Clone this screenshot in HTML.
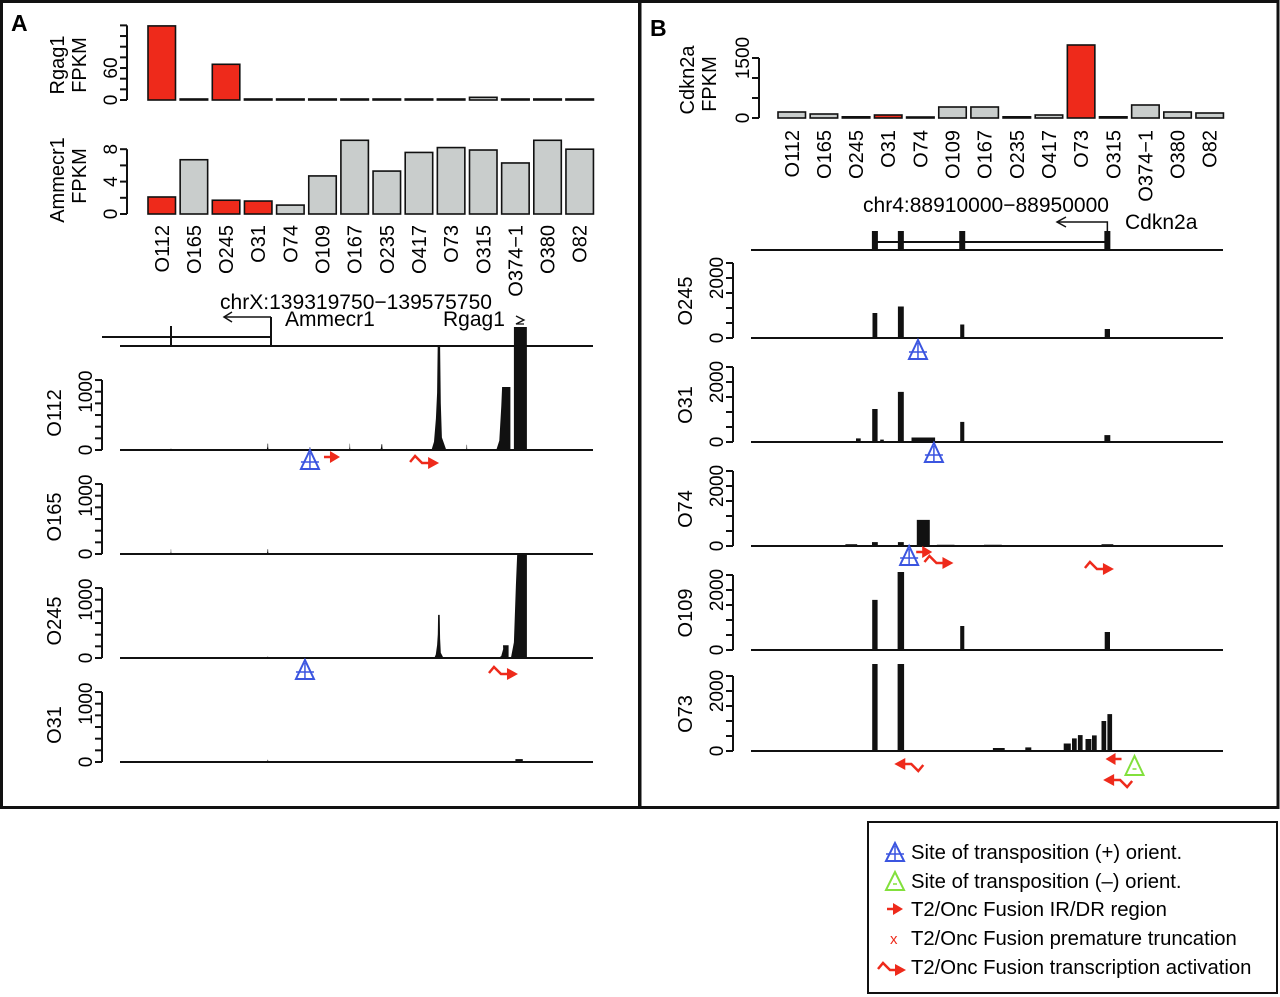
<!DOCTYPE html>
<html><head><meta charset="utf-8">
<style>
html,body{margin:0;padding:0;background:#fff;}
svg{display:block;font-family:"Liberation Sans",Arial,sans-serif;}
</style></head>
<body>
<svg id="fig" xmlns="http://www.w3.org/2000/svg" width="1280" height="997" viewBox="0 0 1280 997">
  <rect x="1.5" y="1.5" width="638" height="806" fill="none" stroke="#111" stroke-width="3"/>
  <rect x="640" y="1.5" width="638" height="806" fill="none" stroke="#111" stroke-width="3"/>
  <text x="11" y="31" font-size="23" font-weight="bold">A</text>
  <text x="650" y="36" font-size="23" font-weight="bold">B</text>
  <g id="gA"></g>
  <g id="gB"></g>
  <g>
    <rect x="868" y="822" width="409" height="171" fill="none" stroke="#111" stroke-width="2"/>
    <g>
      <polygon points="895,843 886,861 904,861" fill="none" stroke="#3b55e0" stroke-width="2"/>
      <line x1="886" y1="854" x2="904" y2="854" stroke="#3b55e0" stroke-width="1.5"/>
      <line x1="895" y1="846" x2="895" y2="861" stroke="#3b55e0" stroke-width="1.5"/>
      <text x="911" y="859" font-size="20.3">Site of transposition (+) orient.</text>
    </g>
    <g>
      <polygon points="895,872 886,890 904,890" fill="none" stroke="#82e03c" stroke-width="2"/>
      <line x1="893" y1="884" x2="897" y2="884" stroke="#82e03c" stroke-width="1.5"/>
      <text x="911" y="888" font-size="20.3">Site of transposition (–) orient.</text>
    </g>
    <g>
      <line x1="887" y1="909" x2="895" y2="909" stroke="#ee2a1b" stroke-width="2.5"/>
      <polygon points="893,903 903,909 893,915" fill="#ee2a1b"/>
      <text x="911" y="916" font-size="20.3">T2/Onc Fusion IR/DR region</text>
    </g>
    <g>
      <text x="890" y="944" font-size="15" fill="#ee2a1b">x</text>
      <text x="911" y="945" font-size="20.3">T2/Onc Fusion premature truncation</text>
    </g>
    <g>
      <polyline points="878,969 883,963 890,970 897,970" fill="none" stroke="#ee2a1b" stroke-width="2.5"/>
      <polygon points="895,964 906,970 895,976" fill="#ee2a1b"/>
      <text x="911" y="974" font-size="20.3">T2/Onc Fusion transcription activation</text>
    </g>
  </g>
</svg>
<script>
// ---------- data ----------
const samples = ["O112","O165","O245","O31","O74","O109","O167","O235","O417","O73","O315","O374\u22121","O380","O82"];
const rgag1Fpkm = [139,0,67,1.5,0,0,0,0,0,0,5,0,0,0];
const rgag1Red = [1,0,1,0,0,0,0,0,0,0,0,0,0,0];
const rgag1Ticks = [0,20,40,60,80,100,120,140];
const rgag1TickLabels = ["0","60"];
const ammecr1Fpkm = [2.1,6.7,1.7,1.6,1.1,4.7,9.1,5.3,7.6,8.2,7.9,6.3,9.1,8.0];
const ammecr1Red = [1,0,1,1,0,0,0,0,0,0,0,0,0,0];
const ammecr1Ticks = [0,2,4,6,8];
const ammecr1TickLabels = ["0","4","8"];
const cdkn2aFpkm = [150,100,30,75,10,275,275,30,75,1825,30,325,150,125];
const cdkn2aRed = [0,0,0,1,0,0,0,0,0,1,0,0,0,0];
const cdkn2aTicks = [0,500,1000,1500];
const cdkn2aTickLabels = ["0","1500"];

// coverage tracks (positions in kb from region start)
const trackATicks = [0,200,400,600,800,1000,1200];
const trackATickLabels = ["0","1000"];
const trackBTicks = [0,500,1000,1500,2000,2500];
const trackBTickLabels = ["0","2000"];
const tracksA = ["O112","O165","O245","O31"];
const aO112Pos = [27.6,80,102.8,124.4,141.7,172.6,187.7,208.3,216.7];
const aO112H   = [30,110,50,110,100,1800,90,1080,1800];
const aO112W   = [0.8,1.8,1.8,1.2,2.5,8,1.2,6,7];
const aO112K   = ["s","s","s","s","s","s","s","r","b"];
const aO165Pos = [27.6,80];
const aO165H   = [80,80];
const aO165W   = [1,1.8];
const aO165K   = ["s","s"];
const aO245Pos = [80,172.6,208.3,216.7];
const aO245H   = [25,740,220,1800];
const aO245W   = [1.5,5,4,7];
const aO245K   = ["s","s","r","r"];
const aO31Pos  = [80,216];
const aO31H    = [40,50];
const aO31W    = [1.5,4];
const aO31K    = ["s","b"];
const tracksB = ["O245","O31","O74","O109","O73"];
const bO245Pos = [10.5,12.7,17.9,30.2];
const bO245H   = [833,1050,450,300];
const bO245W   = [0.4,0.5,0.35,0.45];
const bO31Pos  = [9.1,10.5,11.1,12.7,14.6,17.9,30.2];
const bO31H    = [120,1100,80,1670,150,670,230];
const bO31W    = [0.4,0.45,0.3,0.5,2,0.35,0.5];
const bO74Pos  = [8.5,10.5,12.7,14.6,16.5,20.5,30.2];
const bO74H    = [60,130,130,870,40,40,60];
const bO74W    = [1,0.5,0.5,1.1,1.5,1.5,1];
const bO109Pos = [10.5,12.7,17.9,30.2];
const bO109H   = [1670,2600,800,600];
const bO109W   = [0.45,0.55,0.35,0.45];
const bO73Pos  = [10.5,12.7,21,23.5,26.8,27.4,27.9,28.6,29.1,29.9,30.4];
const bO73H    = [2900,2900,100,120,250,420,530,400,520,1000,1230];
const bO73W    = [0.45,0.55,1,0.5,0.6,0.4,0.4,0.5,0.4,0.4,0.4];

// ---------- helpers ----------
const NS = "http://www.w3.org/2000/svg";
function mk(parent, tag, attrs, txt){
  const e = document.createElementNS(NS, tag);
  for (const k in attrs) e.setAttribute(k, attrs[k]);
  if (txt !== undefined) e.textContent = txt;
  parent.appendChild(e);
  return e;
}
const RED = "#ee2a1b", GREY = "#c9cdcc", BLUE = "#3b55e0", GREEN = "#82e03c";
const gA = document.getElementById("gA");
const gB = document.getElementById("gB");

function rotText(parent, x, y, str, size, anchor){
  const t = mk(parent, "text", {transform:"translate("+x+","+y+") rotate(-90)", "font-size":size, "text-anchor":anchor||"middle"}, str);
  return t;
}

function barChart(parent, name, vals, reds, ticks, tickLabels, axisX, baseY, ppu, x0, pitch, bw, labelTop){
  const g = mk(parent, "g", {});
  
  
  const yS = v => baseY - v * ppu;
  mk(g, "line", {x1:axisX, y1:yS(ticks[0]), x2:axisX, y2:yS(ticks[ticks.length-1]), stroke:"#111", "stroke-width":2});
  ticks.forEach(t => {
    const tk = mk(g, "line", {x1:axisX-7, y1:yS(t), x2:axisX, y2:yS(t), stroke:"#111", "stroke-width":2});
    
    
  });
  tickLabels.forEach(l => {
    const tl = rotText(g, axisX - 10, yS(+l), l, 19);
    
    
  });
  vals.forEach((v, i) => {
    const x = x0 + i * pitch;
    const h = Math.max(v * ppu, 1);
    const r = mk(g, "rect", {x:x, y:baseY - h, width:bw, height:h, fill:reds[i] ? RED : GREY, stroke:"#111", "stroke-width":1.6});
    
    
    if (labelTop) {
      const sl = rotText(g, x + bw/2 + 7, labelTop, samples[i], 20, "end");
      
      
    }
  });
  return g;
}

function track(parent, name, label, pos, hs, ws, kinds, xS, x1, x2, axisX, baseY, ppu, ticks, tickLabels, clipH){
  const g = mk(parent, "g", {});
  
  
  const yS = v => baseY - v * ppu;
  mk(g, "line", {x1:axisX, y1:yS(0), x2:axisX, y2:yS(ticks[ticks.length-1]), stroke:"#111", "stroke-width":2});
  ticks.forEach(t => {
    mk(g, "line", {x1:axisX-7, y1:yS(t), x2:axisX, y2:yS(t), stroke:"#111", "stroke-width":2});
  });
  tickLabels.forEach(l => {
    const tl = rotText(g, axisX - 10, yS(+l), l, 19);
    
    
  });
  const nl = rotText(g, axisX - 41, baseY - 37, label, 20);
  
  
  mk(g, "line", {x1:x1, y1:baseY, x2:x2, y2:baseY, stroke:"#111", "stroke-width":2});
  pos.forEach((p, i) => {
    const h = Math.min(hs[i], clipH) * ppu;
    const xc = xS(p);
    const w = Math.max(xS(p + ws[i]/2) - xS(p - ws[i]/2), 1.5);
    const k = kinds ? kinds[i] : "b";
    let pts;
    if (k === "b") pts = [[xc-w/2,0],[xc-w/2,h],[xc+w/2,h],[xc+w/2,0]];
    else if (k === "r") pts = [[xc-w/2-3,0],[xc-w/2,h*0.15],[xc-w/2+2,h*0.7],[xc-w/4,h],[xc+w/2,h],[xc+w/2,0]];
    else pts = [[xc-w/2,0],[xc-w/3,h*0.08],[xc-w/5,h*0.3],[xc-w/8,h*0.55],[xc-w/12,h],[xc+w/12,h],[xc+w/8,h*0.45],[xc+w/5,h*0.12],[xc+w/2,0]];
    const pk = mk(g, "polygon", {points: pts.map(q => q[0].toFixed(1)+","+(baseY-q[1]).toFixed(1)).join(" "), fill:"#111"});
    
    
  });
  return g;
}

function triMark(parent, x, y, plus){
  const g = mk(parent, "g", {});
  
  
  const c = plus ? BLUE : GREEN;
  mk(g, "polygon", {points:x+","+y+" "+(x-9)+","+(y+19)+" "+(x+9)+","+(y+19), fill:"none", stroke:c, "stroke-width":2});
  if (plus) {
    mk(g, "line", {x1:x-9, y1:y+12, x2:x+9, y2:y+12, stroke:c, "stroke-width":1.5});
    mk(g, "line", {x1:x, y1:y+3, x2:x, y2:y+19, stroke:c, "stroke-width":1.5});
  } else {
    mk(g, "line", {x1:x-2, y1:y+13, x2:x+2, y2:y+13, stroke:c, "stroke-width":1.5});
  }
}
function arrowMark(parent, x, y, dir){
  const g = mk(parent, "g", {});
  
  
  mk(g, "line", {x1:x, y1:y, x2:x+8*dir, y2:y, stroke:RED, "stroke-width":2.5});
  mk(g, "polygon", {points:(x+6*dir)+","+(y-6)+" "+(x+16*dir)+","+y+" "+(x+6*dir)+","+(y+6), fill:RED});
}
function waveMark(parent, x, y, dir){
  const g = mk(parent, "g", {});
  
  
  const f = dir;
  mk(g, "polyline", {points:[[x,y+2*f],[x+5*f,y-4*f],[x+12*f,y+3*f],[x+20*f,y+3*f]].map(q=>q.join(",")).join(" "), fill:"none", stroke:RED, "stroke-width":2.5});
  mk(g, "polygon", {points:(x+18*f)+","+(y+3*f-6)+" "+(x+29*f)+","+(y+3*f)+" "+(x+18*f)+","+(y+3*f+6), fill:RED});
}

// ---------- Panel A ----------
const xA = kb => 120 + kb / 256 * 473;
barChart(gA, "rgag1", rgag1Fpkm, rgag1Red, rgag1Ticks, rgag1TickLabels, 127, 100, 0.533, 148, 32.15, 27.5, null);
barChart(gA, "ammecr1", ammecr1Fpkm, ammecr1Red, ammecr1Ticks, ammecr1TickLabels, 127, 214, 8.1, 148, 32.15, 27.5, 225);
rotText(gA, 64, 65, "Rgag1", 20);
rotText(gA, 86, 65, "FPKM", 20);
rotText(gA, 64, 180, "Ammecr1", 20);
rotText(gA, 86, 176, "FPKM", 20);

const geneA = mk(gA, "g", {});


mk(geneA, "text", {x:356, y:309, "font-size":21, "text-anchor":"middle", textLength:272, lengthAdjust:"spacingAndGlyphs"}, "chrX:139319750\u2212139575750");
mk(geneA, "text", {x:285, y:326, "font-size":21}, "Ammecr1");
mk(geneA, "text", {x:443, y:326, "font-size":21}, "Rgag1");
mk(geneA, "line", {x1:120, y1:346, x2:593, y2:346, stroke:"#111", "stroke-width":2});
mk(geneA, "line", {x1:102, y1:337, x2:271, y2:337, stroke:"#111", "stroke-width":2});
mk(geneA, "line", {x1:171, y1:326, x2:171, y2:346, stroke:"#111", "stroke-width":2});
mk(geneA, "line", {x1:271, y1:317, x2:271, y2:346, stroke:"#111", "stroke-width":2});
mk(geneA, "polyline", {points:"271,317 224,317", fill:"none", stroke:"#111", "stroke-width":1.5});
mk(geneA, "polyline", {points:"232,312 224,317 232,322", fill:"none", stroke:"#111", "stroke-width":1.5});
mk(geneA, "rect", {x:xA(213.2), y:327, width:xA(220.2)-xA(213.2), height:19, fill:"#111"});
mk(geneA, "polyline", {points:"516,316 524,320 516,324 524,324", fill:"none", stroke:"#111", "stroke-width":1.3});

const baseA = [450, 554, 658, 762];
const posA = [aO112Pos, aO165Pos, aO245Pos, aO31Pos];
const hA = [aO112H, aO165H, aO245H, aO31H];
const wA = [aO112W, aO165W, aO245W, aO31W];
const kA = [aO112K, aO165K, aO245K, aO31K];
tracksA.forEach((n, i) => {
  track(gA, "a-" + n.toLowerCase(), n, posA[i], hA[i], wA[i], kA[i], xA, 120, 593, 102, baseA[i], 0.0583, trackATicks, trackATickLabels, 1785);
});
triMark(gA, xA(102.8), 450, true);
arrowMark(gA, xA(110.4), 457, 1);
waveMark(gA, xA(157), 460, 1);
triMark(gA, xA(100.1), 660, true);
waveMark(gA, xA(199.7), 671, 1);

// ---------- Panel B ----------
const xB = kb => 751 + kb / 40 * 472;
barChart(gB, "cdkn2a", cdkn2aFpkm, cdkn2aRed, cdkn2aTicks, cdkn2aTickLabels, 759, 118, 0.04, 778, 32.15, 27.5, 130);
rotText(gB, 694, 80, "Cdkn2a", 20);
rotText(gB, 716, 84, "FPKM", 20);

const geneB = mk(gB, "g", {});


mk(geneB, "text", {x:986, y:212, "font-size":21, "text-anchor":"middle", textLength:246, lengthAdjust:"spacingAndGlyphs"}, "chr4:88910000\u221288950000");
mk(geneB, "text", {x:1125, y:229, "font-size":21}, "Cdkn2a");
mk(geneB, "line", {x1:751, y1:250, x2:1223, y2:250, stroke:"#111", "stroke-width":2});
mk(geneB, "line", {x1:xB(10.5), y1:242, x2:xB(30.2), y2:242, stroke:"#111", "stroke-width":2});
const exonPos = [10.5, 12.7, 17.9, 30.2];
exonPos.forEach(p => {
  const ex = mk(geneB, "rect", {x:xB(p)-3, y:231, width:6, height:19, fill:"#111"});
  
  
});
mk(geneB, "polyline", {points:xB(30.2)+",231 "+xB(30.2)+",222 1057,222", fill:"none", stroke:"#111", "stroke-width":1.5});
mk(geneB, "polyline", {points:"1066,217 1057,222 1066,227", fill:"none", stroke:"#111", "stroke-width":1.5});

const baseB = [338, 442, 546, 650, 751];
const posB = [bO245Pos, bO31Pos, bO74Pos, bO109Pos, bO73Pos];
const hB = [bO245H, bO31H, bO74H, bO109H, bO73H];
const wB = [bO245W, bO31W, bO74W, bO109W, bO73W];
tracksB.forEach((n, i) => {
  track(gB, "b-" + n.toLowerCase(), n, posB[i], hB[i], wB[i], null, xB, 751, 1223, 733, baseB[i], 0.03, trackBTicks, trackBTickLabels, 3000);
});
triMark(gB, xB(14.15), 340, true);
triMark(gB, xB(15.5), 443, true);
triMark(gB, xB(13.4), 546, true);
arrowMark(gB, xB(14.0), 552, 1);
waveMark(gB, xB(14.7), 560, 1);
waveMark(gB, xB(28.3), 566, 1);
waveMark(gB, xB(14.6), 767, -1);
arrowMark(gB, xB(31.4), 759, -1);
triMark(gB, xB(32.5), 756, false);
waveMark(gB, xB(32.3), 783, -1);
</script>
</body></html>
